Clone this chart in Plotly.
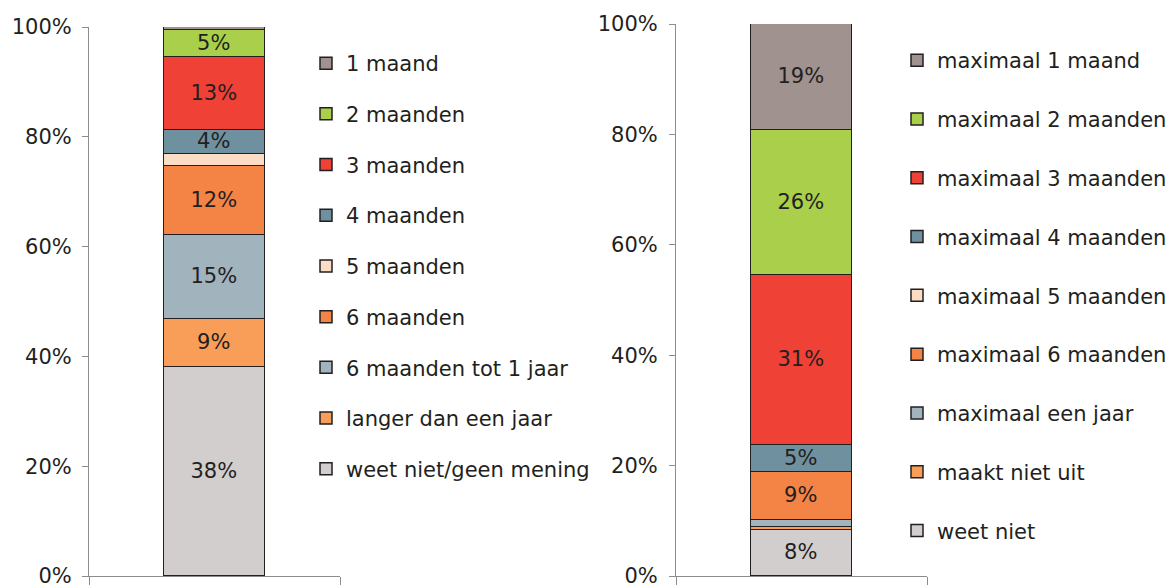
import plotly.graph_objects as go

# ---------------- data ----------------
left_category = ["Links"]
left_series = ["weet niet/geen mening", "langer dan een jaar", "6 maanden tot 1 jaar",
               "6 maanden", "5 maanden", "4 maanden", "3 maanden", "2 maanden", "1 maand"]
left_values = [38.0, 8.9, 15.3, 12.4, 2.2, 4.4, 13.3, 4.9, 0.6]
left_labels = ["38%", "9%", "15%", "12%", "", "4%", "13%", "5%", ""]

right_category = ["Rechts"]
right_series = ["weet niet", "maakt niet uit", "maximaal een jaar", "maximaal 6 maanden",
                "maximaal 5 maanden", "maximaal 4 maanden", "maximaal 3 maanden",
                "maximaal 2 maanden", "maximaal 1 maand"]
right_values = [8.3, 0.5, 1.4, 8.6, 0.0, 5.0, 30.7, 26.3, 19.2]
right_labels = ["8%", "", "", "9%", "", "5%", "31%", "26%", "19%"]

y_tick_values = [0, 20, 40, 60, 80, 100]
y_tick_labels = ["0%", "20%", "40%", "60%", "80%", "100%"]

# ---------------- styles ----------------
left_colors = ["#D2CECE", "#F99E59", "#A1B3BD", "#F48346", "#FBDCC4",
               "#6F909E", "#EF4136", "#A9CF4B", "#A0928F"]
right_colors = ["#D2CECE", "#F99E59", "#A1B3BD", "#F48346", "#FBDCC4",
                "#6F909E", "#EF4136", "#A9CF4B", "#A0928F"]
FONT = "DejaVu Sans"
TXT = "#231F20"
AXIS = "#8C8C8C"
W, H = 1173, 585

fig = go.Figure()

n_left = len(left_series)
for i, (name, val, lab, col) in enumerate(zip(left_series, left_values, left_labels, left_colors)):
    fig.add_trace(go.Bar(
        x=left_category, y=[val], name=name, text=[lab],
        textposition="inside", insidetextanchor="middle", constraintext="none",
        textfont=dict(family=FONT, size=21, color=TXT),
        marker=dict(color=col, line=dict(color=TXT, width=1.5)),
        width=0.4, xaxis="x", yaxis="y", legend="legend", legendgroup="L" + name,
        legendrank=n_left - i, hoverinfo="name+y",
    ))

n_right = len(right_series)
for i, (name, val, lab, col) in enumerate(zip(right_series, right_values, right_labels, right_colors)):
    fig.add_trace(go.Bar(
        x=right_category, y=[val], name=name, text=[lab],
        textposition="inside", insidetextanchor="middle", constraintext="none",
        textfont=dict(family=FONT, size=21, color=TXT),
        marker=dict(color=col, line=dict(color=TXT, width=1.5)),
        width=0.4, xaxis="x2", yaxis="y2", legend="legend2", legendgroup="R" + name,
        legendrank=n_right - i, hoverinfo="name+y",
    ))

xcommon = dict(type="category", range=[-0.5, 0.5], showticklabels=False,
               ticks="outside", tickson="boundaries", ticklen=9, tickcolor=AXIS,
               showline=True, linecolor=AXIS, linewidth=1, showgrid=False,
               zeroline=False, fixedrange=True, automargin=False)
ycommon = dict(range=[0, 100], tickvals=y_tick_values, ticktext=y_tick_labels,
               ticks="outside", ticklen=6, tickcolor=AXIS, showline=True,
               linecolor=AXIS, linewidth=1, showgrid=False, zeroline=False,
               tickfont=dict(family=FONT, size=21, color=TXT),
               ticklabeloverflow="allow",
               fixedrange=True, automargin=False)

fig.update_layout(
    width=W, height=H,
    margin=dict(l=0, r=0, t=0, b=0, autoexpand=False),
    paper_bgcolor="white", plot_bgcolor="white",
    barmode="stack", bargap=0,
    font=dict(family=FONT, size=21, color=TXT),
    xaxis=dict(domain=[89 / W, 340 / W], anchor="y", **xcommon),
    yaxis=dict(domain=[(H - 576) / H, (H - 27) / H], anchor="x",
               ticklabelstandoff=6, **ycommon),
    xaxis2=dict(domain=[676 / W, 927 / W], anchor="y2", **xcommon),
    yaxis2=dict(domain=[(H - 576) / H, (H - 24) / H], anchor="x2",
                ticklabelstandoff=7, **ycommon),
    legend=dict(x=(346 - 40) / W, xanchor="left", y=(H - 43) / H, yanchor="top",
                traceorder="grouped", tracegroupgap=20.4,
                font=dict(family=FONT, size=21, color=TXT), bgcolor="rgba(0,0,0,0)"),
    legend2=dict(x=(937 - 40) / W, xanchor="left", y=(H - 40) / H, yanchor="top",
                 traceorder="grouped", tracegroupgap=28.5,
                 font=dict(family=FONT, size=21, color=TXT), bgcolor="rgba(0,0,0,0)"),
    showlegend=True,
)

fig.write_html("out.html", config={"displayModeBar": False},
               post_script="document.body.style.margin='0';")
